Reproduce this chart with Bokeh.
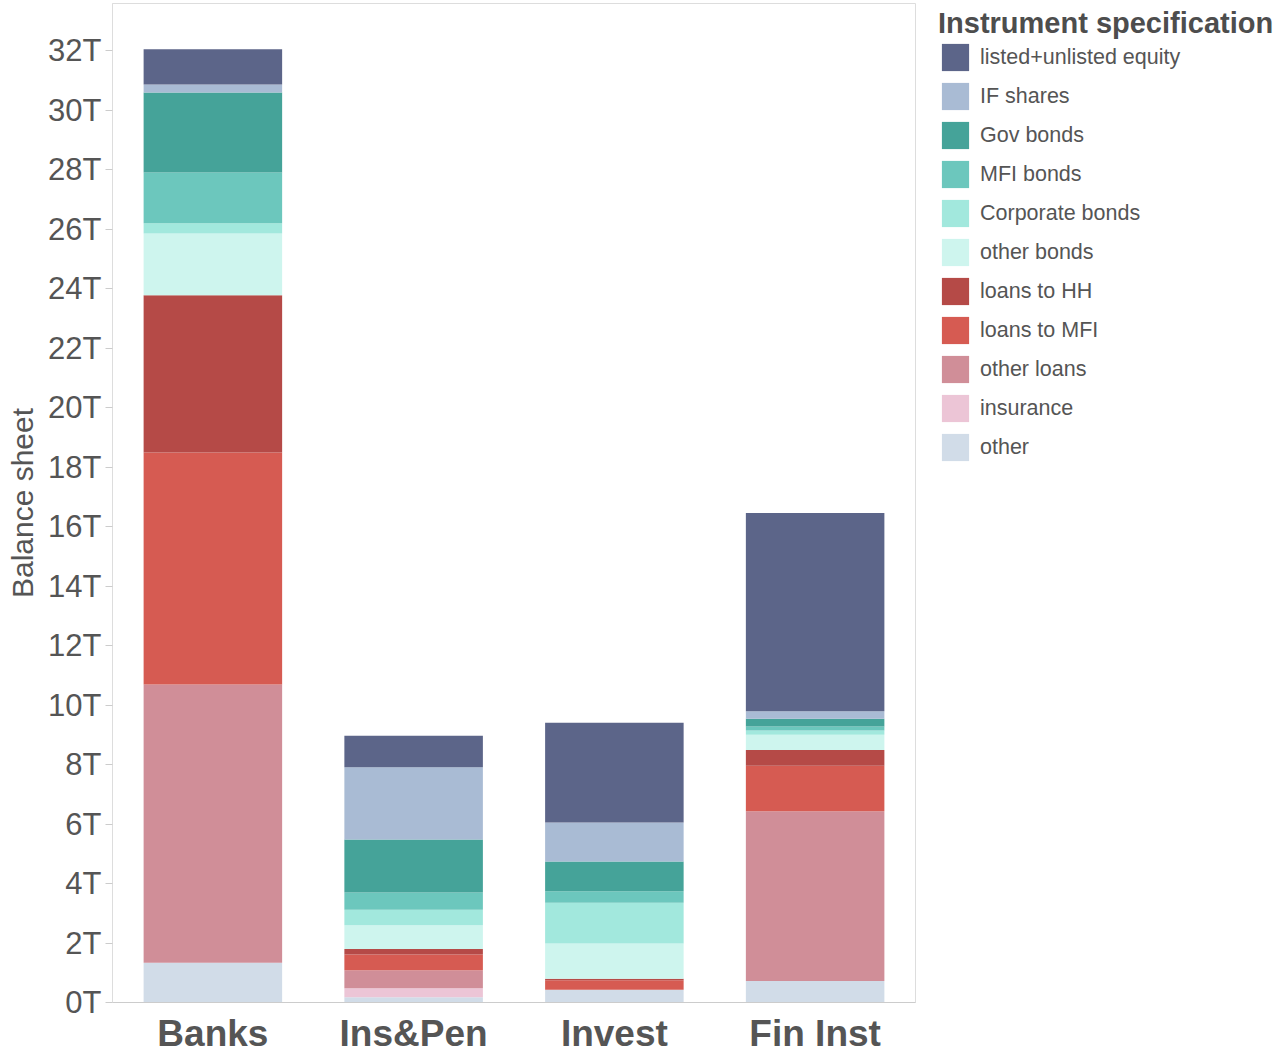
from bokeh.plotting import figure
from bokeh.models import FactorRange, Range1d, FixedTicker, Legend, LegendItem, ColumnDataSource
from bokeh.embed import file_html
from bokeh.resources import INLINE

# ---- data (values in trillions) ----
sectors = ["Banks", "Ins&Pen", "Invest", "Fin Inst"]
instruments = ["other", "insurance", "other loans", "loans to MFI", "loans to HH",
               "other bonds", "Corporate bonds", "MFI bonds", "Gov bonds",
               "IF shares", "listed+unlisted equity"]
other_vals       = [1.34, 0.18, 0.43, 0.72]
insurance_vals   = [0.00, 0.30, 0.00, 0.00]
other_loans      = [9.35, 0.60, 0.00, 5.71]
loans_mfi        = [7.80, 0.53, 0.32, 1.53]
loans_hh         = [5.28, 0.19, 0.05, 0.53]
other_bonds      = [2.08, 0.80, 1.18, 0.51]
corporate_bonds  = [0.34, 0.52, 1.37, 0.14]
mfi_bonds        = [1.71, 0.58, 0.39, 0.14]
gov_bonds        = [2.69, 1.78, 1.00, 0.26]
if_shares        = [0.27, 2.43, 1.31, 0.25]
equity           = [1.18, 1.06, 3.35, 6.66]
y_ticks = list(range(0, 33, 2))
y_tick_labels = [f"{t}T" for t in y_ticks]

colors = ["#d1dce8", "#ecc5d6", "#d08e98", "#d65b52", "#b54a47",
          "#cef5ee", "#a2e8dd", "#6cc7bd", "#45a399", "#a9bbd4", "#5c6589"]

series = [other_vals, insurance_vals, other_loans, loans_mfi, loans_hh, other_bonds,
          corporate_bonds, mfi_bonds, gov_bonds, if_shares, equity]
data = {"sector": sectors}
for name, vals in zip(instruments, series):
    data[name] = vals
source = ColumnDataSource(data)

FONT = "Liberation Sans"
TXT = "#555555"

p = figure(frame_width=803, frame_height=999, output_backend="svg", toolbar_location=None,
           x_range=FactorRange(*sectors), y_range=Range1d(0, 33.58),
           min_border_left=112, min_border_right=360, min_border_top=3, min_border_bottom=40)

renderers = p.vbar_stack(stackers=instruments, x="sector", width=0.69, color=colors,
                         line_color=None, source=source)

p.xgrid.visible = False
p.ygrid.visible = False
p.outline_line_color = "#dddddd"
p.background_fill_color = "white"
p.border_fill_color = "white"

ya = p.yaxis[0]
ya.ticker = FixedTicker(ticks=y_ticks)
ya.major_label_overrides = {t: l for t, l in zip(y_ticks, y_tick_labels)}
ya.major_label_text_font = FONT
ya.major_label_text_font_size = "31px"
ya.major_label_text_color = TXT
ya.axis_line_color = "#dddddd"
ya.major_tick_line_color = "#cccccc"
ya.major_tick_out = 7
ya.major_tick_in = 0
ya.minor_tick_line_color = None
ya.major_label_standoff = 4
ya.axis_label = "Balance sheet"
ya.axis_label_text_font = FONT
ya.axis_label_text_font_size = "30px"
ya.axis_label_text_font_style = "normal"
ya.axis_label_text_color = TXT
ya.axis_label_standoff = 6

xa = p.xaxis[0]
xa.major_label_text_font = FONT
xa.major_label_text_font_size = "37px"
xa.major_label_text_font_style = "bold"
xa.major_label_text_color = TXT
xa.axis_line_color = "#cccccc"
xa.major_tick_line_color = None
xa.minor_tick_line_color = None
xa.major_label_standoff = 4

items = [LegendItem(label=name, renderers=[r]) for name, r in zip(instruments, renderers)]
items = items[::-1]
legend = Legend(items=items, title="Instrument specification", location=(23, 538),
                padding=0, margin=0, spacing=5, glyph_width=34, glyph_height=34,
                label_height=34, label_standoff=8,
                label_text_font=FONT, label_text_font_size="21.5px", label_text_color=TXT,
                title_text_font=FONT, title_text_font_size="29px", title_text_font_style="bold",
                title_text_color="#4d4d4d", title_standoff=0,
                border_line_color=None, background_fill_alpha=0)
p.add_layout(legend, "right")

open("out.html", "w").write(file_html(p, INLINE))
